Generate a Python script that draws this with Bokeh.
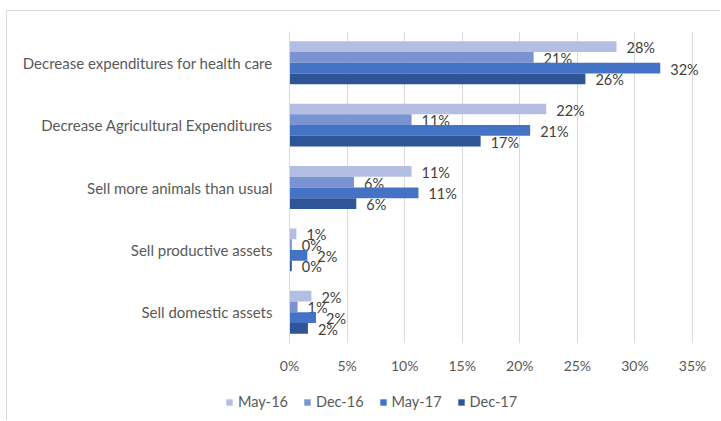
from bokeh.plotting import figure
from bokeh.layouts import column
from bokeh.models import (ColumnDataSource, FactorRange, Range1d, Legend, LegendItem,
                          FixedTicker, PrintfTickFormatter)
from bokeh.transform import dodge
from bokeh.core.properties import value
from bokeh.embed import file_html
from bokeh.resources import INLINE

categories = ["Decrease expenditures for health care",
              "Decrease Agricultural Expenditures",
              "Sell more animals than usual",
              "Sell productive assets",
              "Sell domestic assets"]
series = ["May-16", "Dec-16", "May-17", "Dec-17"]
may16 = [28.4, 22.3, 10.6, 0.6, 1.9]
dec16 = [21.2, 10.6, 5.6, 0.2, 0.7]
may17 = [32.2, 20.9, 11.2, 1.55, 2.3]
dec17 = [25.7, 16.6, 5.8, 0.2, 1.6]
x_ticks = [0, 5, 10, 15, 20, 25, 30, 35]

colors = ["#B4BEE2", "#7A93D2", "#4472C4", "#2F5597"]
values_list = [may16, dec16, may17, dec17]
keys = ["may16", "dec16", "may17", "dec17"]

data = {"cat": categories}
for k, v in zip(keys, values_list):
    data[k] = v
    data[k + "_lbl"] = [f"{round(x)}%" for x in v]
src = ColumnDataSource(data)

FONT = "Lato"
GREY = "#595959"
BORDER = "#D9D9D9"

# axis shows 0..35 %, the frame runs a little further so labels past 35 % are not clipped
X_MAX = 35 * 431 / 403

p = figure(width=720, height=385, output_backend="svg", toolbar_location=None,
           y_range=FactorRange(factors=categories[::-1], range_padding=0),
           x_range=Range1d(0, X_MAX),
           min_border_left=289, min_border_right=0, min_border_top=31, min_border_bottom=42)
p.frame_align = False
p.outline_line_color = None
p.background_fill_color = "white"
p.border_fill_alpha = 0
p.styles = {"background": f"linear-gradient({BORDER},{BORDER}) 6px 10px / 1px 100% no-repeat, "
                          f"linear-gradient({BORDER},{BORDER}) 6px 10px / 100% 1px no-repeat, white"}

bh = 0.172
offsets = [1.5 * bh, 0.5 * bh, -0.5 * bh, -1.5 * bh]
for k, c, off in zip(keys, colors, offsets):
    p.hbar(y=dodge("cat", off, range=p.y_range), left=0, right=k, height=bh,
           fill_color=c, line_color=None, source=src)
    p.text(x=k, y=dodge("cat", off, range=p.y_range), text=k + "_lbl", source=src,
           x_offset=10, y_offset=1, text_align="left", text_baseline="middle",
           text_font=value(FONT), text_font_size="14.5px", text_color="#404040")

p.xaxis.ticker = FixedTicker(ticks=x_ticks)
p.xaxis.formatter = PrintfTickFormatter(format="%d%%")
p.xaxis.axis_line_color = None
p.xaxis.major_tick_line_color = None
p.xaxis.minor_tick_line_color = None
p.xaxis.major_label_standoff = 7
p.xaxis.major_label_text_font = FONT
p.xaxis.major_label_text_font_size = "14px"
p.xaxis.major_label_text_color = GREY

p.yaxis.axis_line_color = BORDER
p.yaxis.major_tick_line_color = None
p.yaxis.minor_tick_line_color = None
p.yaxis.major_label_standoff = 11
p.yaxis.major_label_text_font = FONT
p.yaxis.major_label_text_font_size = "15px"
p.yaxis.major_label_text_color = GREY

p.xgrid.grid_line_color = BORDER
p.xgrid.ticker = FixedTicker(ticks=x_ticks)
p.ygrid.grid_line_color = None

# legend strip
q = figure(width=720, height=35, output_backend="svg", toolbar_location=None,
           x_range=Range1d(0, 1), y_range=Range1d(0, 1),
           x_axis_location=None, y_axis_location=None,
           min_border_left=0, min_border_right=0, min_border_top=0, min_border_bottom=0)
q.frame_align = False
q.outline_line_color = None
q.grid.grid_line_color = None
q.background_fill_alpha = 0
q.border_fill_alpha = 0
q.styles = {"background": f"linear-gradient({BORDER},{BORDER}) 6px 0px / 1px 100% no-repeat, white"}

items = []
for s, c in zip(series, colors):
    # legend proxy, placed outside the visible range
    r = q.hbar(y=[-5], left=[0], right=[1], height=0.1, fill_color=c, line_color=None)
    items.append(LegendItem(label=s, renderers=[r]))

legend = Legend(items=items, orientation="horizontal", location=(225, 10),
                padding=0, margin=0, spacing=15, glyph_width=8, glyph_height=8,
                label_standoff=5, label_text_font=FONT, label_text_font_size="14.5px",
                label_text_color=GREY, border_line_color=None, background_fill_alpha=0)
q.add_layout(legend)

open("out.html", "w").write(file_html(column(p, q, spacing=0), INLINE))
